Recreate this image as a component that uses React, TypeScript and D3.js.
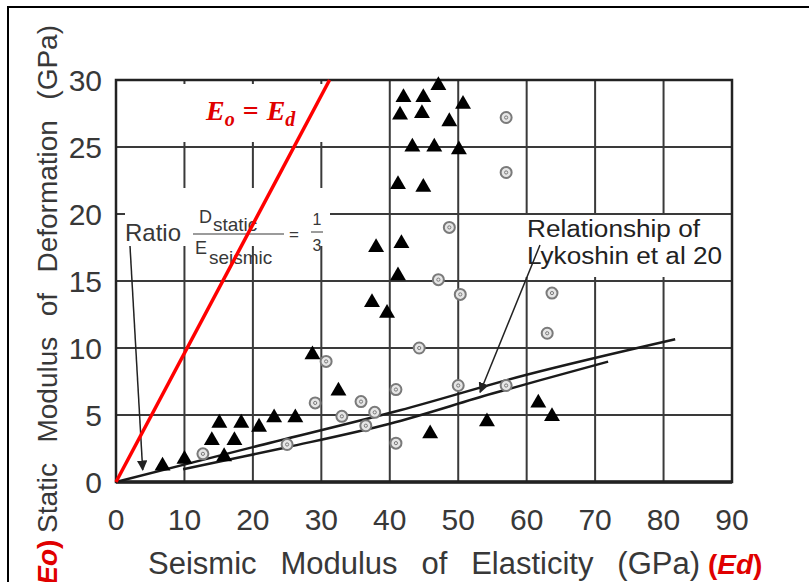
import React from "react";
import * as d3 from "d3";

// triangles (measured data)
const triX = [6.8, 10, 15.8, 14.0, 17.3, 15.1, 18.3, 20.9, 23.1, 26.2, 28.7, 32.5,
  47.1, 42, 44.9, 50.7, 41.5, 44.7, 48.7, 43.3, 46.5, 50.1, 41.2, 44.9,
  38, 41.7, 41.2, 37.4, 39.6, 45.9, 54.2, 61.7, 63.7];
const triY = [1.2, 1.7, 1.9, 3.1, 3.1, 4.4, 4.4, 4.1, 4.8, 4.8, 9.5, 6.8,
  29.6, 28.7, 28.7, 28.2, 27.4, 27.5, 26.9, 25, 25, 24.8, 22.2, 22,
  17.5, 17.8, 15.4, 13.4, 12.6, 3.6, 4.5, 5.9, 4.9];

// circles
const cirX = [57, 57, 48.7, 47.1, 50.3, 63.7, 63, 44.3, 30.7, 29.1, 33, 35.8, 37.8,
  36.5, 40.9, 40.9, 50, 57, 25, 12.7];
const cirY = [27.2, 23.1, 19, 15.1, 14, 14.1, 11.1, 10, 9.0, 5.9, 4.9, 6.0, 5.2,
  4.2, 6.9, 2.9, 7.2, 7.2, 2.8, 2.1];

// relationship curves
const upperX = [0, 20, 41.5, 60, 81.7];
const upperY = [0, 2.6, 5.35, 8.0, 10.65];
const lowerX = [9.8, 25, 40, 55, 71.9];
const lowerY = [0.95, 2.6, 4.35, 6.6, 8.98];

// Eo = Ed line
const eqX = [0, 31.2];
const eqY = [0, 30];

const xTicks = [0, 10, 20, 30, 40, 50, 60, 70, 80, 90];
const yTicks = [0, 5, 10, 15, 20, 25, 30];

const xTitle = "Seismic Modulus of Elasticity (GPa)";
const yTitle = "Static Modulus of Deformation (GPa)";

const W = 809;
const H = 582;
const FONT = "Liberation Sans, Arial, sans-serif";

// extra word spacing so a title fills the wanted width
function wordGap(s: string, size: number, target: number) {
  const ctx = document.createElement("canvas").getContext("2d");
  if (!ctx) return 0;
  ctx.font = `${size}px ${FONT}`;
  const w = ctx.measureText(s).width;
  const n = s.split(" ").length - 1;
  return Math.max(0, (target - w) / n);
}

export default function App() {
  const x = d3.scaleLinear().domain([0, 90]).range([116, 732]);
  const y = d3.scaleLinear().domain([0, 30]).range([482, 80]);

  const line = d3
    .line<[number, number]>()
    .x((d) => x(d[0]))
    .y((d) => y(d[1]))
    .curve(d3.curveCatmullRom);

  const upper = line(upperX.map((v, i) => [v, upperY[i]]));
  const lower = line(lowerX.map((v, i) => [v, lowerY[i]]));
  const eqLine = d3
    .line<[number, number]>()
    .x((d) => x(d[0]))
    .y((d) => y(d[1]))(eqX.map((v, i) => [v, eqY[i]]));
  const tri = d3.symbol().type(d3.symbolTriangle).size(110)();

  const grid = "#3a3a3a";
  const txt = "#383838";

  return (
    <svg
      width={W}
      height={H}
      style={{ position: "absolute", left: 0, top: 0, background: "#fff" }}
      fontFamily={FONT}
    >
      <defs>
        <marker id="ah" viewBox="0 0 10 10" refX="9" refY="5" markerWidth="7" markerHeight="7" orient="auto">
          <path d="M0,0 L10,5 L0,10 z" fill="#222" />
        </marker>
      </defs>
      <rect x={8} y={7} width={W} height={H} fill="none" stroke="#000" strokeWidth={2} />

      {/* grid */}
      {xTicks.map((t) => (
        <line key={"gx" + t} x1={x(t)} x2={x(t)} y1={y(30)} y2={y(0)} stroke={grid} strokeWidth={2} />
      ))}
      {yTicks.map((t) => (
        <line key={"gy" + t} x1={x(0)} x2={x(90)} y1={y(t)} y2={y(t)} stroke={grid} strokeWidth={2} />
      ))}
      <rect x={x(0)} y={y(30)} width={x(90) - x(0)} height={y(0) - y(30)} fill="none" stroke="#222" strokeWidth={2.5} />
      <line x1={x(0)} x2={x(90)} y1={y(0)} y2={y(0)} stroke="#222" strokeWidth={3.5} />

      {/* white label boxes */}
      <rect x={120} y={84} width={265} height={58} fill="#fff" />
      <rect x={125} y={188} width={205} height={58} fill="#fff" />
      <rect x={522} y={215} width={204} height={62} fill="#fff" />

      {/* tick labels */}
      {xTicks.map((t) => (
        <text key={"tx" + t} x={x(t)} y={530} textAnchor="middle" fontSize={30} fill={txt}>
          {t}
        </text>
      ))}
      {yTicks.map((t) => (
        <text key={"ty" + t} x={102} y={y(t) + 11} textAnchor="end" fontSize={30} fill={txt}>
          {t}
        </text>
      ))}

      {/* axis titles */}
      <text x={148} y={574} fontSize={31} fill={txt} wordSpacing={wordGap(xTitle, 31, 552)}>
        {xTitle}
      </text>
      <text x={708} y={574} fontSize={28} fontWeight="bold" fill="#e00000">
        (<tspan fontStyle="italic">Ed</tspan>)
      </text>
      <g transform="translate(57,0) rotate(-90)">
        <text x={-594} y={0} fontSize={28} fontWeight="bold" fill="#e00000">
          (<tspan fontStyle="italic">Eo</tspan>)
        </text>
        <text x={-533} y={0} fontSize={28} fill={txt} wordSpacing={wordGap(yTitle, 28, 508)}>
          {yTitle}
        </text>
      </g>

      {/* relationship curves */}
      <path d={upper ?? ""} fill="none" stroke="#1a1a1a" strokeWidth={2.5} />
      <path d={lower ?? ""} fill="none" stroke="#1a1a1a" strokeWidth={2.5} />

      {/* circles */}
      {cirX.map((v, i) => (
        <g key={"c" + i} transform={`translate(${x(v)},${y(cirY[i])})`}>
          <circle r={5.5} fill="#e6e6e6" stroke="#7a7a7a" strokeWidth={2} />
          <circle r={1.6} fill="none" stroke="#7a7a7a" strokeWidth={1} />
        </g>
      ))}

      {/* triangles */}
      {triX.map((v, i) => (
        <path key={"t" + i} d={tri ?? ""} transform={`translate(${x(v)},${y(triY[i])})`} fill="#000" />
      ))}

      {/* ratio annotation */}
      <text x={125} y={241} fontSize={24} fill={txt}>Ratio</text>
      <text x={199} y={223} fontSize={18} fill={txt}>D</text>
      <text x={213} y={231} fontSize={19} fill={txt}>static</text>
      <line x1={193} x2={284} y1={234} y2={234} stroke={txt} strokeWidth={1.2} />
      <text x={195} y={254} fontSize={18} fill={txt}>E</text>
      <text x={209} y={264} fontSize={19} fill={txt}>seismic</text>
      <text x={289} y={240} fontSize={17} fill={txt}>=</text>
      <text x={317} y={225} fontSize={16} textAnchor="middle" fill={txt}>1</text>
      <line x1={311} x2={323} y1={232} y2={232} stroke={txt} strokeWidth={1} />
      <text x={317} y={251} fontSize={16} textAnchor="middle" fill={txt}>3</text>
      <line x1={130} y1={246} x2={x(3.9)} y2={y(0.9)} stroke="#222" strokeWidth={1.5} markerEnd="url(#ah)" />

      {/* Lykoshin annotation */}
      <text x={527} y={237} fontSize={23} fill="#222" textLength={173} lengthAdjust="spacingAndGlyphs">
        Relationship of
      </text>
      <text x={527} y={264} fontSize={23} fill="#222" textLength={195} lengthAdjust="spacingAndGlyphs">
        Lykoshin et al 20
      </text>
      <line x1={540} y1={245} x2={x(53.2)} y2={y(6.7)} stroke="#222" strokeWidth={1.5} markerEnd="url(#ah)" />

      {/* Eo = Ed */}
      <path d={eqLine ?? ""} stroke="#ff0000" strokeWidth={3.5} fill="none" />
      <text x={206} y={120} fontSize={28} fontFamily="Liberation Serif, DejaVu Serif, serif" fontWeight="bold" fontStyle="italic" fill="#e00000">
        E<tspan fontSize={20} dy={6}>o</tspan>
        <tspan dy={-6} fontStyle="normal" dx={8}>=</tspan>
        <tspan dx={8}>E</tspan>
        <tspan fontSize={20} dy={6}>d</tspan>
      </text>
    </svg>
  );
}
